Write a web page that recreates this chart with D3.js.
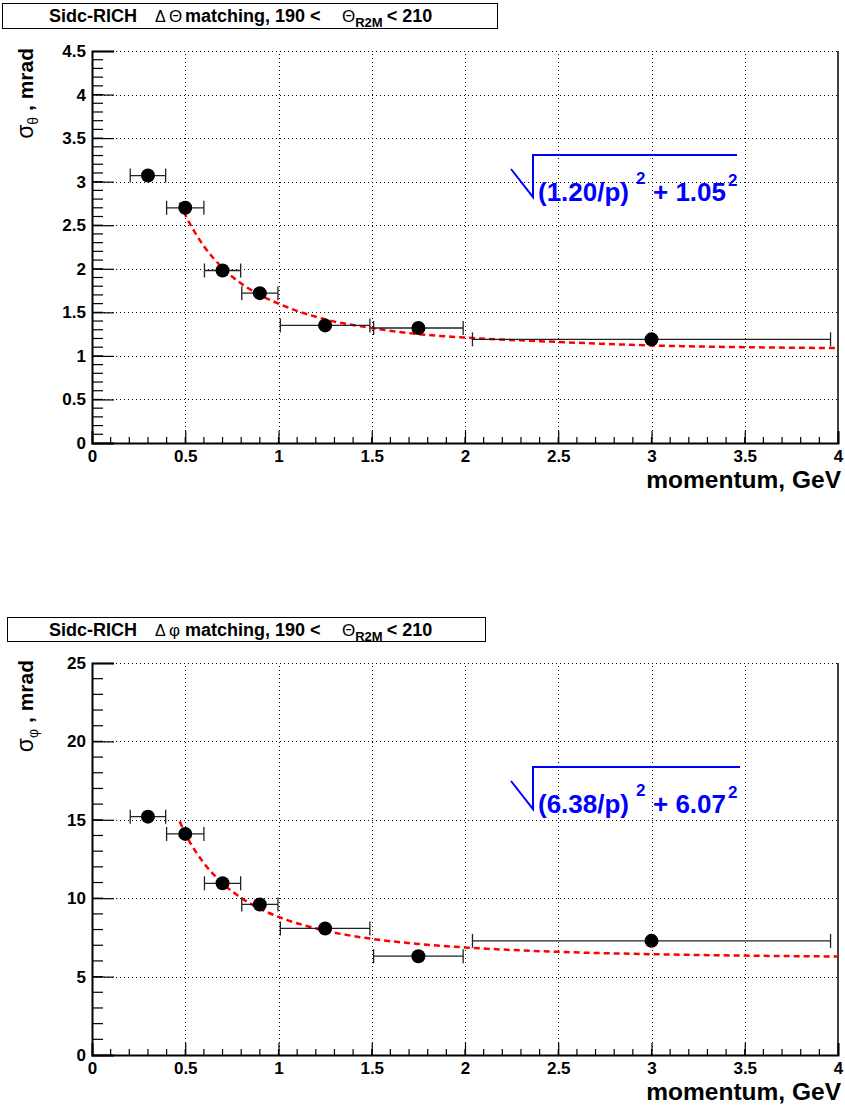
<!DOCTYPE html>
<html>
<head>
<meta charset="utf-8">
<script src="https://cdn.jsdelivr.net/npm/d3@7"></script>
<style>
  body { margin: 0; background: #fff; }
  svg { display: block; font-family: "Liberation Sans", Arial, Helvetica, sans-serif; }
</style>
</head>
<body>
<div id="chart"></div>
<script>
// measured points (same momentum bins for both panels)
var momentum = [0.3, 0.5, 0.7, 0.9, 1.25, 1.75, 3.0];
var momentumErr = [0.095, 0.1, 0.097, 0.097, 0.24, 0.24, 0.96];
var sigmaTheta = [3.07, 2.70, 1.98, 1.72, 1.35, 1.32, 1.19];
var sigmaPhi = [15.2, 14.1, 10.95, 9.6, 8.07, 6.3, 7.28];

// fit curve
var fitMomentum = [0.47, 0.5, 0.6, 0.7, 0.8, 0.9, 1.0, 1.25, 1.5, 1.75, 2.0, 2.5, 3.0, 3.5, 4.0];
var fitTheta = [2.76, 2.62, 2.26, 2.01, 1.83, 1.70, 1.60, 1.42, 1.32, 1.25, 1.21, 1.16, 1.12, 1.10, 1.09];
var fitPhi = [14.9, 14.13, 12.24, 10.95, 10.02, 9.33, 8.81, 7.93, 7.41, 7.08, 6.86, 6.58, 6.43, 6.34, 6.28];

// axis ticks
var xTicks = [0, 0.5, 1, 1.5, 2, 2.5, 3, 3.5, 4];
var thetaTicks = [0, 0.5, 1, 1.5, 2, 2.5, 3, 3.5, 4, 4.5];
var phiTicks = [0, 5, 10, 15, 20, 25];

var svg = d3.select("#chart").append("svg")
            .attr("width", 845)
            .attr("height", 1108);

function drawPanel(p) {
  var g = svg.append("g");
  var x = d3.scaleLinear().domain([0, 4]).range([92, 838]);
  var y = d3.scaleLinear().domain([0, p.yMax]).range([p.bottom, p.bottom - 392]);

  // title box
  g.append("rect")
   .attr("x", p.box[0]).attr("y", p.box[1])
   .attr("width", p.box[2]).attr("height", p.box[3])
   .attr("fill", "#fff").attr("stroke", "#000").attr("stroke-width", 1);
  var t = g.append("text")
           .attr("y", p.box[1] + 18)
           .attr("font-size", 18).attr("font-weight", "bold");
  t.append("tspan").attr("x", 49).text("Sidc-RICH");
  t.append("tspan").attr("x", 155).attr("font-weight", "normal").attr("font-size", 16).text("\u0394");
  t.append("tspan").attr("x", 169).attr("font-weight", "normal").attr("font-size", 17).text(p.symbol);
  t.append("tspan").attr("x", 185).text("matching, 190 <");
  t.append("tspan").attr("x", 342).attr("font-weight", "normal").attr("font-size", 17).text("\u0398");
  t.append("tspan").attr("font-size", 13).attr("dy", 5).text("R2M");
  t.append("tspan").attr("dy", -5).attr("dx", 4).text("< 210");

  // grid
  var grid = g.append("g").attr("stroke", "#000").attr("stroke-width", 1)
              .attr("stroke-dasharray", "1,3");
  grid.selectAll(".gx").data(xTicks.filter(function(d) { return d > 0 && d < 4; }))
      .enter().append("line")
      .attr("x1", function(d) { return Math.round(x(d)) + 0.5; })
      .attr("x2", function(d) { return Math.round(x(d)) + 0.5; })
      .attr("y1", y(0)).attr("y2", y(p.yMax));
  grid.selectAll(".gy").data(p.ticks.filter(function(d) { return d > 0; }))
      .enter().append("line")
      .attr("x1", x(0)).attr("x2", x(4))
      .attr("y1", function(d) { return Math.round(y(d)) + 0.5; })
      .attr("y2", function(d) { return Math.round(y(d)) + 0.5; });

  // right frame edge
  g.append("line").attr("x1", x(4)).attr("x2", x(4))
   .attr("y1", y(0)).attr("y2", y(p.yMax))
   .attr("stroke", "#000").attr("stroke-width", 1.5);

  // minor ticks
  var minor = g.append("g").attr("stroke", "#000").attr("stroke-width", 1.2);
  minor.selectAll(".mx").data(d3.range(1, 40).map(function(i) { return i / 10; }))
       .enter().append("line")
       .attr("x1", function(d) { return x(d); }).attr("x2", function(d) { return x(d); })
       .attr("y1", y(0)).attr("y2", y(0) - 6);
  minor.selectAll(".my").data(d3.range(1, p.yMax / p.minor).map(function(i) { return i * p.minor; }))
       .enter().append("line")
       .attr("x1", x(0)).attr("x2", x(0) + 11)
       .attr("y1", function(d) { return y(d); }).attr("y2", function(d) { return y(d); });

  // axes
  var xAxis = g.append("g").attr("transform", "translate(0," + y(0) + ")")
               .call(d3.axisBottom(x).tickValues(xTicks).tickSize(-12).tickPadding(7)
                       .tickFormat(d3.format("")));
  var yAxis = g.append("g").attr("transform", "translate(" + x(0) + ",0)")
               .call(d3.axisLeft(y).tickValues(p.ticks).tickSize(-22).tickPadding(6)
                       .tickFormat(d3.format("")));
  [xAxis, yAxis].forEach(function(a) {
    a.select(".domain").attr("stroke-width", 2);
    a.selectAll(".tick line").attr("stroke-width", 1.2);
    a.selectAll(".tick text").attr("font-size", 17).attr("font-weight", "bold")
     .attr("font-family", "'Liberation Sans', Arial, sans-serif").attr("fill", "#000");
  });

  // axis titles
  g.append("text").attr("x", 841).attr("y", y(0) + 45)
   .attr("text-anchor", "end").attr("font-size", 24.5).attr("font-weight", "bold")
   .text("momentum, GeV");
  var yt = g.append("text")
            .attr("transform", "translate(33," + (y(p.yMax) - 3) + ") rotate(-90)")
            .attr("text-anchor", "end").attr("font-size", 21).attr("font-weight", "bold");
  yt.append("tspan").attr("font-weight", "normal").attr("font-size", 23).text("\u03c3");
  yt.append("tspan").attr("font-weight", "normal").attr("font-size", 14).attr("dy", 5).text(p.symbolSub);
  yt.append("tspan").attr("dy", -5).text(" , mrad");

  // fit curve
  var line = d3.line()
               .x(function(d, i) { return x(fitMomentum[i]); })
               .y(function(d) { return y(d); })
               .curve(d3.curveMonotoneX);
  g.append("path").datum(p.fit)
   .attr("d", line)
   .attr("fill", "none").attr("stroke", "#ff0000")
   .attr("stroke-width", 2.5).attr("stroke-dasharray", "6,4");

  // error bars + points
  var pts = g.append("g");
  var bars = pts.selectAll(".err").data(p.values).enter().append("g")
                .attr("stroke", "#222").attr("stroke-width", 1.3);
  bars.append("line")
      .attr("x1", function(d, i) { return x(momentum[i] - momentumErr[i]); })
      .attr("x2", function(d, i) { return x(momentum[i] + momentumErr[i]); })
      .attr("y1", function(d) { return y(d); }).attr("y2", function(d) { return y(d); });
  [-1, 1].forEach(function(s) {
    bars.append("line")
        .attr("x1", function(d, i) { return x(momentum[i] + s * momentumErr[i]); })
        .attr("x2", function(d, i) { return x(momentum[i] + s * momentumErr[i]); })
        .attr("y1", function(d) { return y(d) - 7; })
        .attr("y2", function(d) { return y(d) + 7; });
  });
  pts.selectAll("circle").data(p.values).enter().append("circle")
     .attr("cx", function(d, i) { return x(momentum[i]); })
     .attr("cy", function(d) { return y(d); })
     .attr("r", 7).attr("fill", "#000");

  // fit formula
  var fy = p.formulaY;
  g.append("polyline")
   .attr("points", [[511, fy - 32], [533, fy - 4], [533, fy - 46], [p.barEnd, fy - 46]].join(" "))
   .attr("fill", "none").attr("stroke", "#0000ff").attr("stroke-width", 2);
  var f = g.append("text").attr("y", fy).attr("fill", "#0000ff")
           .attr("font-size", 26).attr("font-weight", "bold");
  f.append("tspan").attr("x", 538).text(p.formula[0]);
  f.append("tspan").attr("x", 636).attr("dy", -17).attr("font-size", 17).text("2");
  f.append("tspan").attr("x", 653).attr("dy", 17).text(p.formula[1]);
  f.append("tspan").attr("x", 728).attr("dy", -15).attr("font-size", 17).text("2");
}

drawPanel({
  bottom: 443, yMax: 4.5, ticks: thetaTicks, minor: 0.1,
  values: sigmaTheta, fit: fitTheta,
  box: [2.5, 3.5, 495, 25], symbol: "\u0398", symbolSub: "\u03b8",
  formulaY: 201, barEnd: 737, formula: ["(1.20/p)", "+ 1.05"]
});

drawPanel({
  bottom: 1055, yMax: 25, ticks: phiTicks, minor: 1,
  values: sigmaPhi, fit: fitPhi,
  box: [7.5, 617.5, 478, 24], symbol: "\u03c6", symbolSub: "\u03c6",
  formulaY: 813, barEnd: 740, formula: ["(6.38/p)", "+ 6.07"]
});
</script>
</body>
</html>
